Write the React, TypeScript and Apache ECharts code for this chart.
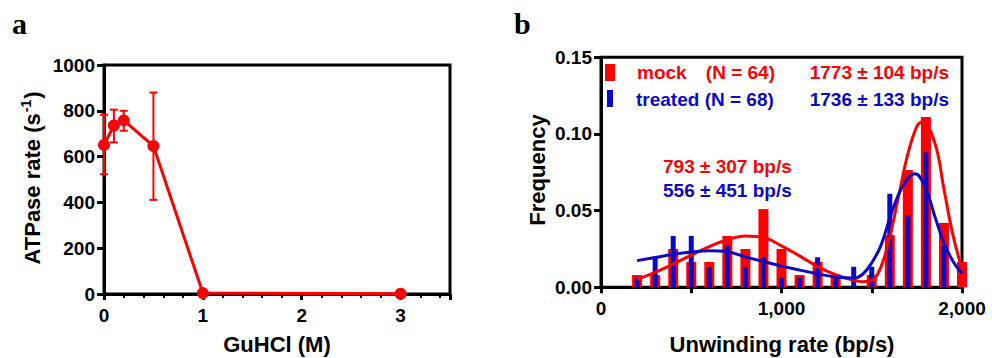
import React, { useEffect, useRef } from "react";
import * as echarts from "echarts";

// Panel a: ATPase rate vs GuHCl
const guhcl = [0, 0.1, 0.2, 0.5, 1, 3];
const atpaseRate = [651, 736, 758, 646, 4, 1];
const atpaseLow = [523, 662, 713, 411, null, null];
const atpaseHigh = [783, 805, 800, 880, null, null];
const aXTicks = [0, 1, 2, 3];
const aYTicks = [0, 200, 400, 600, 800, 1000];

// Panel b: histogram of unwinding rates
const binCenters = [200, 300, 400, 500, 600, 700, 800, 900, 1000, 1100, 1200, 1300, 1400, 1500, 1600, 1700, 1800, 1900, 2000];
const mockFreq = [0.008, 0.008, 0.025, 0.0165, 0.0165, 0.0335, 0.025, 0.051, 0.025, 0.008, 0.0165, 0.008, 0, 0.008, 0.034, 0.0765, 0.111, 0.042, 0.0165];
const treatedFreq = [0.006, 0.02, 0.0335, 0.0335, 0.0132, 0.027, 0.0132, 0.0196, 0.0063, 0.0063, 0.0196, 0.0063, 0.0134, 0.0134, 0.061, 0.047, 0.088, 0.027, 0];

// Fitted curves
const mockCurveX = [200, 300, 400, 500, 600, 700, 800, 900, 1000, 1100, 1200, 1300, 1400, 1450, 1500, 1550, 1600, 1650, 1700, 1750, 1780, 1850, 1900, 1950, 2000];
const mockCurveY = [0.0052, 0.0098, 0.0152, 0.021, 0.0265, 0.031, 0.0335, 0.0325, 0.027, 0.0205, 0.0135, 0.0082, 0.0045, 0.0037, 0.0045, 0.013, 0.033, 0.06, 0.087, 0.105, 0.108, 0.094, 0.064, 0.034, 0.012];
const treatedCurveX = [200, 300, 400, 500, 600, 700, 800, 900, 1000, 1100, 1200, 1300, 1400, 1450, 1500, 1550, 1600, 1650, 1700, 1740, 1800, 1850, 1900, 1950, 2000];
const treatedCurveY = [0.0174, 0.0194, 0.0215, 0.023, 0.0238, 0.0232, 0.0198, 0.0168, 0.0138, 0.0112, 0.0088, 0.0067, 0.006, 0.0085, 0.016, 0.027, 0.045, 0.061, 0.071, 0.074, 0.064, 0.046, 0.029, 0.017, 0.009];
const bXLabels = ["0", "1,000", "2,000"];

const RED = "#ff0000";
const BLUE = "#0a0ac4";
const FONT = "Arial, 'Liberation Sans', Helvetica, sans-serif";

export default function App() {
  const ref = useRef<HTMLDivElement>(null);
  useEffect(() => {
    if (!ref.current) return;
    const chart = echarts.init(ref.current, null, { renderer: "svg" });
    const labelStyle = { fontFamily: FONT, fontWeight: "bold" as const, fontSize: 19, color: "#000" };
    const axisLine = { show: true, lineStyle: { color: "#000", width: 3 } };
    const errData = guhcl
      .map((x, i) => [x, atpaseLow[i], atpaseHigh[i]])
      .filter((d) => d[1] != null);
    const txt = (text: string, x: number, y: number, color: string, extra: any = {}) => ({
      type: "text",
      x,
      y,
      style: {
        text,
        fill: color,
        fontFamily: FONT,
        fontWeight: "bold",
        fontSize: 19,
        align: "left",
        verticalAlign: "middle",
        ...extra,
      },
    });
    chart.setOption({
      animation: false,
      grid: [
        { left: 104, top: 65, width: 346, height: 229, show: true, borderColor: "#000", borderWidth: 3, containLabel: false },
        { left: 601, top: 57.3, width: 361, height: 230, show: true, borderColor: "#000", borderWidth: 3, containLabel: false },
      ],
      xAxis: [
        {
          type: "value",
          gridIndex: 0,
          min: 0,
          max: 3.5,
          interval: 1,
          axisLine,
          axisTick: { show: true, length: 6, lineStyle: { color: "#000", width: 3 } },
          minorTick: { show: true, splitNumber: 5, length: 4, lineStyle: { color: "#000", width: 2 } },
          splitLine: { show: false },
          axisLabel: {
            ...labelStyle,
            margin: 12,
            showMaxLabel: false,
            formatter: (v: number) => (aXTicks.includes(v) ? String(v) : ""),
          },
        },
        {
          type: "value",
          gridIndex: 1,
          min: 0,
          max: 2000,
          interval: 500,
          axisLine,
          axisTick: { show: true, length: 6, lineStyle: { color: "#000", width: 3 } },
          splitLine: { show: false },
          axisLabel: {
            ...labelStyle,
            margin: 12,
            formatter: (v: number) => (v % 1000 === 0 ? bXLabels[v / 1000] : ""),
          },
        },
        {
          type: "value",
          gridIndex: 1,
          min: 0,
          max: 2000,
          show: false,
          splitLine: { show: false },
        },
      ],
      yAxis: [
        {
          type: "value",
          gridIndex: 0,
          min: 0,
          max: 1000,
          interval: 200,
          axisLine,
          axisTick: { show: true, length: 7, lineStyle: { color: "#000", width: 3 } },
          splitLine: { show: false },
          axisLabel: { ...labelStyle, margin: 9, formatter: (v: number) => (aYTicks.includes(v) ? String(v) : "") },
        },
        {
          type: "value",
          gridIndex: 1,
          min: 0,
          max: 0.15,
          interval: 0.05,
          axisLine,
          axisTick: { show: true, length: 7, lineStyle: { color: "#000", width: 3 } },
          splitLine: { show: false },
          axisLabel: { ...labelStyle, margin: 9, formatter: (v: number) => v.toFixed(2) },
        },
      ],
      series: [
        {
          type: "custom",
          xAxisIndex: 0,
          yAxisIndex: 0,
          data: errData,
          z: 3,
          renderItem: (params: any, api: any) => {
            const x = api.value(0);
            const lo = api.coord([x, api.value(1)]);
            const hi = api.coord([x, api.value(2)]);
            const st = { stroke: RED, lineWidth: 2 };
            return {
              type: "group",
              children: [
                { type: "line", shape: { x1: lo[0], y1: lo[1], x2: hi[0], y2: hi[1] }, style: st },
                { type: "line", shape: { x1: hi[0] - 4, y1: hi[1], x2: hi[0] + 4, y2: hi[1] }, style: st },
                { type: "line", shape: { x1: lo[0] - 4, y1: lo[1], x2: lo[0] + 4, y2: lo[1] }, style: st },
              ],
            };
          },
        },
        {
          type: "line",
          xAxisIndex: 0,
          yAxisIndex: 0,
          data: guhcl.map((x, i) => [x, atpaseRate[i]]),
          symbol: "circle",
          symbolSize: 12,
          itemStyle: { color: RED },
          lineStyle: { color: RED, width: 3 },
          clip: false,
          z: 4,
        },
        {
          type: "bar",
          xAxisIndex: 1,
          yAxisIndex: 1,
          data: binCenters.map((x, i) => [x, mockFreq[i]]),
          barWidth: 10,
          itemStyle: { color: RED },
          clip: false,
          z: 2,
        },
        {
          type: "bar",
          xAxisIndex: 2,
          yAxisIndex: 1,
          data: binCenters.map((x, i) => [x, treatedFreq[i]]),
          barWidth: 5,
          itemStyle: { color: BLUE },
          clip: false,
          z: 3,
        },
        {
          type: "line",
          xAxisIndex: 1,
          yAxisIndex: 1,
          data: mockCurveX.map((x, i) => [x, mockCurveY[i]]),
          smooth: 0.4,
          showSymbol: false,
          symbol: "none",
          lineStyle: { color: RED, width: 3 },
          z: 4,
        },
        {
          type: "line",
          xAxisIndex: 1,
          yAxisIndex: 1,
          data: treatedCurveX.map((x, i) => [x, treatedCurveY[i]]),
          smooth: 0.4,
          showSymbol: false,
          symbol: "none",
          lineStyle: { color: BLUE, width: 3 },
          z: 5,
        },
      ],
      graphic: [
        txt("a", 12, 23, "#000", { fontFamily: "'Times New Roman', 'Liberation Serif', serif", fontSize: 30 }),
        txt("b", 514, 23, "#000", { fontFamily: "'Times New Roman', 'Liberation Serif', serif", fontSize: 30 }),
        {
          type: "text",
          x: 31,
          y: 178,
          rotation: Math.PI / 2,
          style: {
            text: "{a|ATPase rate (s}{s|-1}{a|)}",
            align: "center",
            verticalAlign: "middle",
            fill: "#000",
            rich: {
              a: { fontFamily: FONT, fontWeight: "bold", fontSize: 22, fill: "#000", verticalAlign: "bottom", lineHeight: 24 },
              s: { fontFamily: FONT, fontWeight: "bold", fontSize: 14, fill: "#000", verticalAlign: "top", lineHeight: 24, padding: [0, 1, 8, 1] },
            },
          },
        },
        txt("GuHCl (M)", 277, 344, "#000", { fontSize: 22, align: "center" }),
        txt("Unwinding rate (bp/s)", 782, 344, "#000", { fontSize: 22, align: "center" }),
        {
          type: "text",
          x: 537.5,
          y: 170,
          rotation: Math.PI / 2,
          style: { text: "Frequency", fill: "#000", fontFamily: FONT, fontWeight: "bold", fontSize: 22, align: "center", verticalAlign: "middle" },
        },
        { type: "rect", shape: { x: 605, y: 64, width: 10, height: 17 }, style: { fill: RED } },
        { type: "rect", shape: { x: 607, y: 90, width: 6, height: 17 }, style: { fill: BLUE } },
        txt("mock", 637, 72.5, RED),
        txt("(N = 64)", 775, 72.5, RED, { align: "right" }),
        txt("treated (N = 68)", 636, 99, BLUE),
        txt("1773 \u00b1 104 bp/s", 949, 72.5, RED, { align: "right" }),
        txt("1736 \u00b1 133 bp/s", 949, 99, BLUE, { align: "right" }),
        txt("793 \u00b1 307 bp/s", 663, 166, RED),
        txt("556 \u00b1 451 bp/s", 663, 190, BLUE),
      ],
    });
    return () => chart.dispose();
  }, []);
  return <div ref={ref} style={{ position: "fixed", left: 0, top: 0, width: 992, height: 358, background: "#fff" }} />;
}
